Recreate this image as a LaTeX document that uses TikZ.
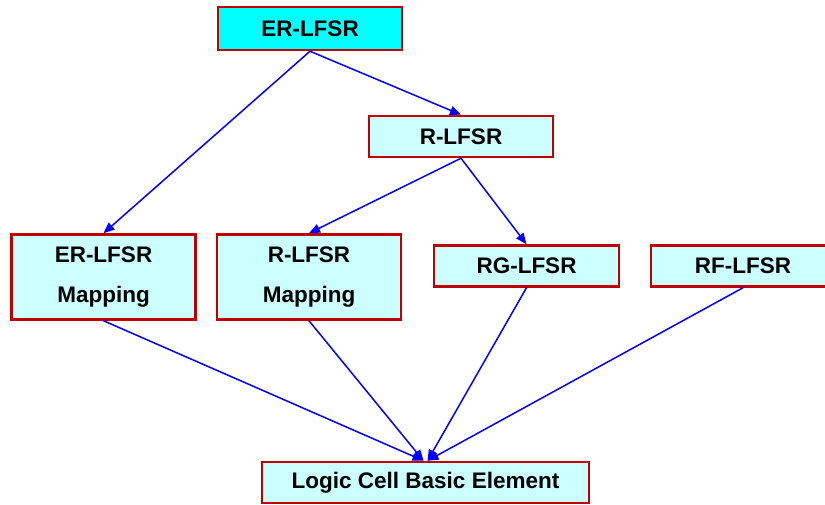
\documentclass[tikz,border=0pt]{standalone}
\usepackage{fontspec}
\setmainfont{Liberation Sans}
\usetikzlibrary{arrows.meta}
\definecolor{boxred}{RGB}{192,0,0}
\definecolor{lcyan}{RGB}{204,255,255}
\definecolor{fcyan}{RGB}{0,255,255}
\definecolor{arrblue}{RGB}{0,0,255}
\begin{document}
\begin{tikzpicture}[x=1pt,y=-1pt,
  box/.style={draw=boxred, line width=2.5pt, fill=lcyan, rectangle, inner sep=0pt,
    font=\fontsize{22.5}{40}\selectfont\bfseries, align=center},
  conn/.style={draw=arrblue, line width=1.5pt, -{Triangle[length=11pt,width=9pt]}}]
\useasboundingbox (0,0) rectangle (825,505);
\node[box, fill=fcyan, minimum width=184pt, minimum height=43pt] (er) at (310,28.5) {ER-LFSR};
\node[box, minimum width=184pt, minimum height=41pt] (r) at (461,136.5) {R-LFSR};
\node[box, minimum width=184pt, minimum height=85pt] (erm) at (103.5,277) {ER-LFSR\\Mapping};
\node[box, minimum width=184pt, minimum height=85pt] (rm) at (309,277) {R-LFSR\\Mapping};
\node[box, minimum width=185pt, minimum height=41pt] (rg) at (526.5,266) {RG-LFSR};
\node[box, minimum width=184pt, minimum height=41pt] (rf) at (743,266) {RF-LFSR};
\node[box, minimum width=327pt, minimum height=41pt] (lc) at (425.5,482.5) {Logic Cell Basic Element};
\coordinate (lct) at (425,462);
\draw[conn] (er.south) -- (erm.north);
\draw[conn] (er.south) -- (r.north);
\draw[conn] (r.south) -- (rm.north);
\draw[conn] (r.south) -- (rg.north);
\draw[conn] (erm.south) -- ([xshift=-2pt]lc.north);
\draw[conn] (rm.south) -- ([xshift=-2pt]lc.north);
\draw[conn] (rg.south) -- ([xshift=2pt]lc.north);
\draw[conn] (rf.south) -- ([xshift=2pt]lc.north);
\end{tikzpicture}
\end{document}
